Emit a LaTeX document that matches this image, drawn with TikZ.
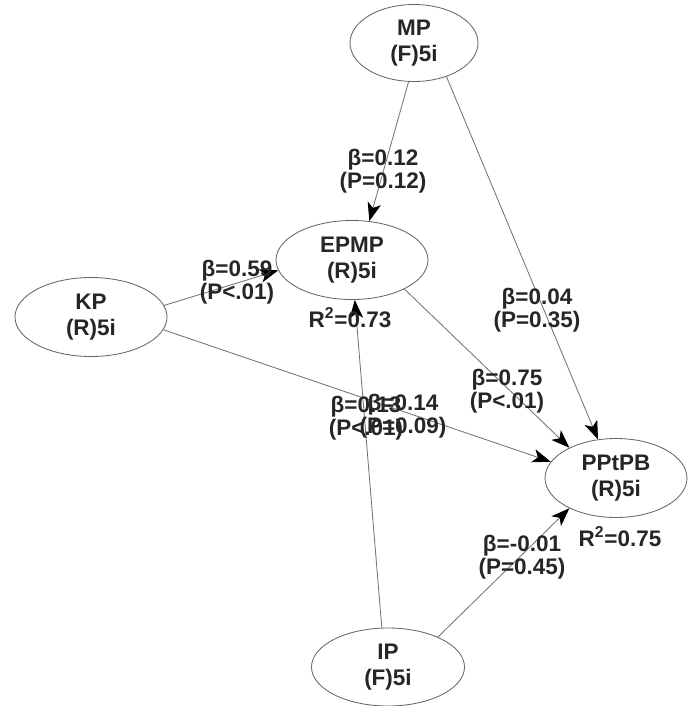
\documentclass[tikz,border=0pt]{standalone}
\usepackage{fontspec}
\setmainfont{Liberation Sans}
\usetikzlibrary{positioning, arrows.meta, shapes.geometric}

\def\raster{0.025cm}

\tikzset{
    var/.style={ellipse, draw=black!60, line width=0.6pt, minimum width=152*\raster,
        minimum height=79*\raster, inner sep=0pt, align=center, text=black!85,
        font=\bfseries\fontsize{16}{19}\selectfont},
    coef/.style={align=center, inner sep=0pt, text=black!85,
        font=\bfseries\fontsize{16}{16.5}\selectfont},
    link/.style={draw=black!55, line width=0.6pt,
        -{Stealth[length=4.6mm, width=3.4mm, inset=1.2mm, black]}}
}

\begin{document}
\begin{tikzpicture}[x=\raster, y=-\raster]
    \useasboundingbox (0,0) rectangle (688,706);

    % constructs
    \node[var, minimum width=128*\raster, minimum height=77*\raster] (MP) at (414,43) {MP\\(F)5i};
    \node[var] (EPMP) at (352,260) {EPMP\\(R)5i};
    \node[var] (KP) at (91,317) {KP\\(R)5i};
    \node[var, minimum width=142*\raster] (PPtPB) at (616,478) {PPtPB\\(R)5i};
    \node[var, minimum width=153*\raster, minimum height=78*\raster] (IP) at (388,667) {IP\\(F)5i};

    % paths
    \foreach \from/\a/\to/\b in {
        MP/-98/EPMP/66,
        MP/-46/PPtPB/115,
        KP/9/EPMP/188,
        KP/-10/PPtPB/166,
        EPMP/-29/PPtPB/147,
        IP/99/EPMP/-86,
        IP/31/PPtPB/-147}{

        \draw[link] (\from.\a) -- (\to.\b);
    }

    % path coefficients
    \foreach \i/\cx/\cy/\b/\p in {
        1/383/171/0.12/=0.12,
        2/537/310/0.04/=0.35,
        3/237/282/0.59/<.01,
        4/507/391/0.75/<.01,
        5/522/557/-0.01/=0.45,
        6/366/418/0.13/<.01,
        7/403/416/0.14/=0.09}{

        \node[coef] (c\i) at (\cx,\cy) {β=\b\\(P\p)};
    }

    \node[coef] (r2EPMP) at (350,318) {R\textsuperscript{2}=0.73};
    \node[coef] (r2PPtPB) at (620,537) {R\textsuperscript{2}=0.75};
\end{tikzpicture}
\end{document}
